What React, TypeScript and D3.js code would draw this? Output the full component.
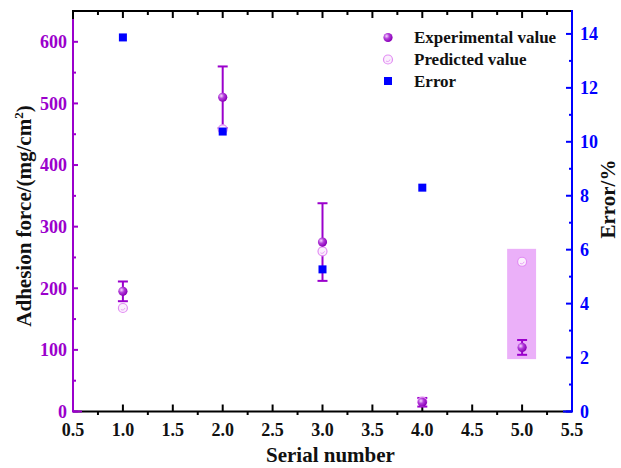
import React, { useRef, useEffect } from "react";
import * as d3 from "d3";

// chart data
const serial = [1, 2, 3, 4, 5];
const experimental = [195, 510, 275, 15, 104];
const expError = [16, 50, 63, 7, 12];
const predicted = [168, 458, 260, 16, 243];
const errorSerial = [1, 2, 3, 4];
const errorPct = [13.87, 10.38, 5.27, 8.3];
const highlight = [{ x0: 4.85, x1: 5.14, y0: 85, y1: 264 }];

const xTicks = [0.5, 1.0, 1.5, 2.0, 2.5, 3.0, 3.5, 4.0, 4.5, 5.0, 5.5];
const leftTicks = [0, 100, 200, 300, 400, 500, 600];
const rightTicks = [0, 2, 4, 6, 8, 10, 12, 14];

const PURPLE = "#9B00CC";
const PINK = "#E28EF3";
const BLUE = "#0000FF";
const FONT = "'Liberation Serif', 'Times New Roman', serif";

function App() {
  const ref = useRef<SVGSVGElement>(null);

  useEffect(() => {
    const width = 621;
    const height = 468;
    const margin = { top: 11, right: 49, bottom: 56.5, left: 73 };
    const w = width - margin.left - margin.right;
    const h = height - margin.top - margin.bottom;

    const root = d3.select(ref.current);
    root.selectAll("*").remove();

    const defs = root.append("defs");
    const grad = defs.append("radialGradient").attr("id", "sphere")
      .attr("cx", "35%").attr("cy", "35%").attr("r", "65%");
    grad.append("stop").attr("offset", "0%").attr("stop-color", "#F6D8FF");
    grad.append("stop").attr("offset", "45%").attr("stop-color", "#B23CD9");
    grad.append("stop").attr("offset", "100%").attr("stop-color", "#8A00B8");

    const svg = root.append("g").attr("transform", `translate(${margin.left},${margin.top})`);

    const x = d3.scaleLinear().domain([0.5, 5.5]).range([0, w]);
    const yL = d3.scaleLinear().domain([0, 650]).range([h, 0]);
    const yR = d3.scaleLinear().domain([0, 14.85]).range([h, 0]);

    // highlight box
    svg.selectAll(".hl").data(highlight).enter().append("rect")
      .attr("x", d => x(d.x0)).attr("width", d => x(d.x1) - x(d.x0))
      .attr("y", d => yL(d.y1)).attr("height", d => yL(d.y0) - yL(d.y1))
      .attr("fill", "#E8A2F8").attr("opacity", 0.85);

    // frame (black)
    svg.append("line").attr("x1", 0).attr("x2", w).attr("y1", 0).attr("y2", 0)
      .attr("stroke", "#000").attr("stroke-width", 2);
    svg.append("line").attr("x1", 0).attr("x2", w).attr("y1", h).attr("y2", h)
      .attr("stroke", "#000").attr("stroke-width", 2);
    svg.append("line").attr("x1", 0).attr("x2", 0).attr("y1", -1).attr("y2", 8)
      .attr("stroke", "#000").attr("stroke-width", 2);

    // bottom axis: major inward, minor outward
    const xg = svg.append("g").attr("transform", `translate(0,${h})`);
    xTicks.forEach(t => {
      xg.append("line").attr("x1", x(t)).attr("x2", x(t)).attr("y1", 0).attr("y2", -7)
        .attr("stroke", "#000").attr("stroke-width", 2);
      xg.append("text").attr("x", x(t)).attr("y", 24.5).attr("text-anchor", "middle")
        .attr("font-family", FONT).attr("font-weight", "bold").attr("font-size", 18)
        .attr("fill", "#111").text(d3.format(".1f")(t));
    });
    d3.range(0.75, 5.5, 0.5).forEach(t => {
      xg.append("line").attr("x1", x(t)).attr("x2", x(t)).attr("y1", 0).attr("y2", 3.5)
        .attr("stroke", "#000").attr("stroke-width", 2);
    });
    // top axis ticks, inward
    xTicks.forEach(t => {
      svg.append("line").attr("x1", x(t)).attr("x2", x(t)).attr("y1", 0).attr("y2", 7)
        .attr("stroke", "#000").attr("stroke-width", 2);
    });
    d3.range(0.75, 5.5, 0.5).forEach(t => {
      svg.append("line").attr("x1", x(t)).attr("x2", x(t)).attr("y1", 0).attr("y2", 4)
        .attr("stroke", "#000").attr("stroke-width", 2);
    });

    // left axis (purple)
    const lg = svg.append("g");
    lg.append("path").attr("d", `M0,8V${h}H9`).attr("fill", "none")
      .attr("stroke", PURPLE).attr("stroke-width", 2);
    leftTicks.forEach(t => {
      lg.append("line").attr("x1", 0).attr("x2", 5).attr("y1", yL(t)).attr("y2", yL(t))
        .attr("stroke", PURPLE).attr("stroke-width", 2);
      lg.append("text").attr("x", -6).attr("y", yL(t)).attr("dy", "0.35em")
        .attr("text-anchor", "end").attr("fill", PURPLE)
        .attr("font-family", FONT).attr("font-weight", "bold").attr("font-size", 18)
        .text(t);
    });
    d3.range(50, 650, 100).forEach(t => {
      lg.append("line").attr("x1", 0).attr("x2", 3).attr("y1", yL(t)).attr("y2", yL(t))
        .attr("stroke", PURPLE).attr("stroke-width", 2);
    });

    // right axis (blue)
    const rg = svg.append("g").attr("transform", `translate(${w},0)`);
    rg.append("path").attr("d", `M0,-1V${h}H-9`).attr("fill", "none")
      .attr("stroke", BLUE).attr("stroke-width", 2);
    rightTicks.forEach(t => {
      rg.append("line").attr("x1", 0).attr("x2", -6).attr("y1", yR(t)).attr("y2", yR(t))
        .attr("stroke", BLUE).attr("stroke-width", 2);
      rg.append("text").attr("x", 8).attr("y", yR(t)).attr("dy", "0.35em")
        .attr("fill", BLUE).attr("font-family", FONT).attr("font-weight", "bold").attr("font-size", 18)
        .text(t);
    });
    d3.range(1, 15, 2).forEach(t => {
      rg.append("line").attr("x1", 0).attr("x2", -3).attr("y1", yR(t)).attr("y2", yR(t))
        .attr("stroke", BLUE).attr("stroke-width", 2);
    });

    // axis titles
    svg.append("text").attr("transform", `translate(${31 - margin.left},${216 - margin.top}) rotate(-90)`)
      .attr("text-anchor", "middle").attr("font-family", FONT).attr("font-weight", "bold")
      .attr("font-size", 21).attr("fill", "#111")
      .html("Adhesion force/(mg/cm<tspan dy='-8' font-size='13'>2</tspan><tspan dy='8'>)</tspan>");
    svg.append("text").attr("transform", `translate(${615 - margin.left},${199 - margin.top}) rotate(-90)`)
      .attr("text-anchor", "middle").attr("font-family", FONT).attr("font-weight", "bold")
      .attr("font-size", 21).attr("fill", "#111").text("Error/%");
    svg.append("text").attr("x", x(3.08)).attr("y", 462 - margin.top).attr("text-anchor", "middle")
      .attr("font-family", FONT).attr("font-weight", "bold").attr("font-size", 21)
      .attr("fill", "#111").text("Serial number");

    // error bars
    const exp = serial.map((s, i) => ({ s, v: experimental[i], e: expError[i] }));
    const eb = svg.selectAll(".eb").data(exp).enter().append("g");
    eb.append("line").attr("x1", d => x(d.s)).attr("x2", d => x(d.s))
      .attr("y1", d => yL(d.v - d.e)).attr("y2", d => yL(d.v + d.e))
      .attr("stroke", PURPLE).attr("stroke-width", 2);
    [1, -1].forEach(sign => {
      eb.append("line").attr("x1", d => x(d.s) - 5).attr("x2", d => x(d.s) + 5)
        .attr("y1", d => yL(d.v + sign * d.e)).attr("y2", d => yL(d.v + sign * d.e))
        .attr("stroke", PURPLE).attr("stroke-width", 2);
    });

    // predicted (open pink)
    const drawPred = (g: any, cx: any, cy: any) => {
      g.append("circle").attr("cx", cx).attr("cy", cy).attr("r", 4.5)
        .attr("fill", "#FBEFFD").attr("stroke", PINK).attr("stroke-width", 1.2);
      g.append("path").attr("d", (d: any) => {
        const px = typeof cx === "function" ? cx(d) : cx;
        const py = typeof cy === "function" ? cy(d) : cy;
        return `M${px - 2},${py + 1.5}A2.5,2.5 0 0 0 ${px + 2},${py}`;
      }).attr("fill", "none").attr("stroke", PINK).attr("stroke-width", 0.8);
    };
    const pred = serial.map((s, i) => ({ s, v: predicted[i] }));
    drawPred(svg.selectAll(".pr").data(pred).enter().append("g"), (d: any) => x(d.s), (d: any) => yL(d.v));

    // experimental (purple sphere)
    svg.selectAll(".ex").data(exp).enter().append("circle")
      .attr("cx", d => x(d.s)).attr("cy", d => yL(d.v)).attr("r", 4.6)
      .attr("fill", "url(#sphere)");

    // error % (blue squares)
    const err = errorSerial.map((s, i) => ({ s, v: errorPct[i] }));
    svg.selectAll(".er").data(err).enter().append("rect")
      .attr("x", d => x(d.s) - 4).attr("y", d => yR(d.v) - 4)
      .attr("width", 8).attr("height", 8).attr("fill", BLUE);

    // legend
    const lgX = 388 - margin.left;
    const items = ["Experimental value", "Predicted value", "Error"];
    const rows = [37.5, 59.5, 81].map(v => v - margin.top);
    const leg = svg.append("g");
    leg.append("circle").attr("cx", lgX).attr("cy", rows[0]).attr("r", 4.6).attr("fill", "url(#sphere)");
    drawPred(leg.append("g"), lgX, rows[1]);
    leg.append("rect").attr("x", lgX - 4).attr("y", rows[2] - 4).attr("width", 8).attr("height", 8).attr("fill", BLUE);
    items.forEach((t, i) => {
      leg.append("text").attr("x", lgX + 26).attr("y", rows[i]).attr("dy", "0.35em")
        .attr("font-family", FONT).attr("font-weight", "bold").attr("font-size", 17)
        .attr("fill", "#111").text(t);
    });
  }, []);

  return (
    <svg ref={ref} width={621} height={468}
      style={{ position: "absolute", left: 0, top: 0, background: "#fff" }} />
  );
}

export default App;
